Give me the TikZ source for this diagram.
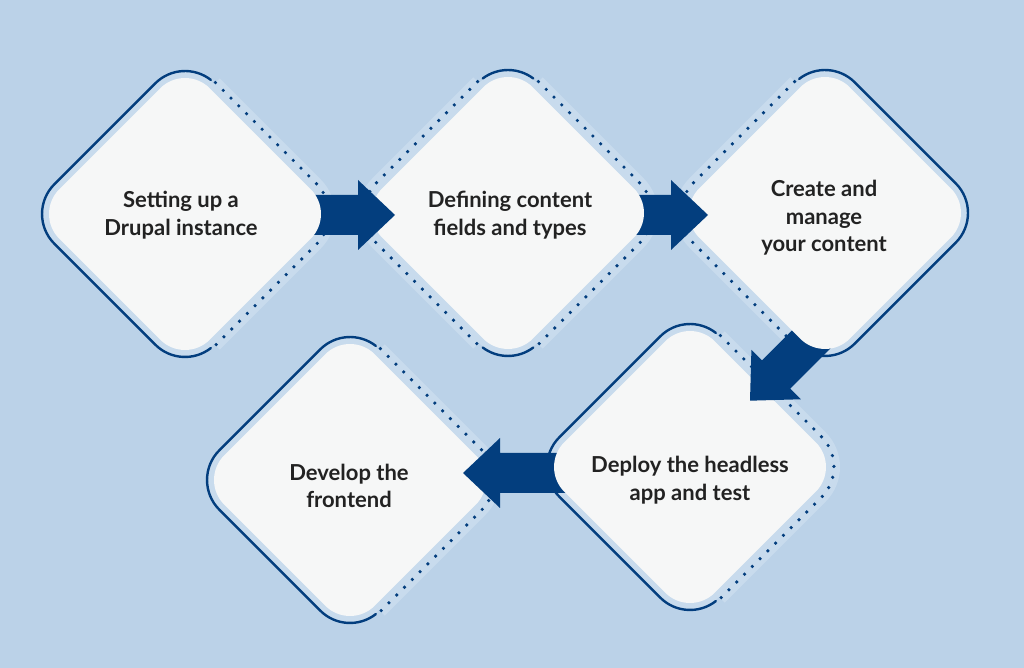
\documentclass[tikz,border=0pt]{standalone}
\usepackage{fontspec}
\setmainfont{Lato}
\definecolor{bg}{HTML}{BBD2E8}
\definecolor{halo}{HTML}{C8DBED}
\definecolor{paper}{HTML}{F6F7F7}
\definecolor{navy}{HTML}{033E7E}
\definecolor{ink}{HTML}{222222}
\def\dmoff{71.4}
\tikzset{
  lbl/.style={text=ink, font=\fontsize{22}{27.5}\selectfont\bfseries, align=center, inner sep=0pt},
  darkline/.style={draw=navy, line width=2.4pt, line cap=round},
  dotline/.style={draw=navy, line width=3.6pt, line cap=round, dash pattern=on 0pt off 11pt},
  haloband/.style={draw=halo, line width=14pt},
  dm/.style={insert path={({\dmoff+#1},{-\dmoff}) -- ({\dmoff+#1},{\dmoff}) arc[start angle=0,end angle=90,radius=#1] -- ({-\dmoff},{\dmoff+#1}) arc[start angle=90,end angle=180,radius=#1] -- ({-\dmoff-#1},{-\dmoff}) arc[start angle=180,end angle=270,radius=#1] -- ({\dmoff},{-\dmoff-#1}) arc[start angle=270,end angle=360,radius=#1] -- cycle}},
  dotsR/.style={insert path={({\dmoff+#1},{\dmoff}) -- ({\dmoff+#1},{-\dmoff}) arc[start angle=360,end angle=270,radius=#1] -- ({-\dmoff},{-\dmoff-#1})}},
  dotsL/.style={insert path={({\dmoff},{\dmoff+#1}) -- ({-\dmoff},{\dmoff+#1}) arc[start angle=90,end angle=180,radius=#1] -- ({-\dmoff-#1},{-\dmoff})}},
  darkL/.style={insert path={({\dmoff+42*cos(7)},{\dmoff+42*sin(7)}) arc[start angle=7,end angle=90,radius=42] -- ({-\dmoff},{\dmoff+42}) arc[start angle=90,end angle=180,radius=42] -- ({-\dmoff-42},{-\dmoff}) arc[start angle=180,end angle=263,radius=42]}},
  darkR/.style={insert path={({\dmoff+42*cos(83)},{\dmoff+42*sin(83)}) arc[start angle=83,end angle=0,radius=42] -- ({\dmoff+42},{-\dmoff}) arc[start angle=360,end angle=270,radius=42] -- ({-\dmoff},{-\dmoff-42}) arc[start angle=270,end angle=187,radius=42]}},
  arcT/.style={insert path={({\dmoff+42*cos(8)},{\dmoff+42*sin(8)}) arc[start angle=8,end angle=82,radius=42]}},
  arcB/.style={insert path={({-\dmoff+42*cos(188)},{-\dmoff+42*sin(188)}) arc[start angle=188,end angle=262,radius=42]}},
  blockarrow/.pic={\fill[navy] (-112,20) -- (-37,20) -- (-37,35) -- (0,0) -- (-37,-35) -- (-37,-20) -- (-112,-20) -- cycle;}
}
\begin{document}
\begin{tikzpicture}[x=1pt,y=1pt]
\fill[bg] (0,0) rectangle (1024,668);
\useasboundingbox (0,0) rectangle (1024,668);
\coordinate (c1) at (185,454);
\coordinate (c2) at (508,455);
\coordinate (c3) at (825,455);
\coordinate (c4) at (690,201);
\coordinate (c5) at (350,188);

% ---- layer 1: halos and dotted lines
\begin{scope}[shift={(c1)},rotate=45]
  \fill[halo,dm=41];
  \draw[haloband,dotsR=42];
  \draw[dotline,dotsR=43];
\end{scope}
\begin{scope}[shift={(c2)},rotate=45]
  \fill[halo,dm=41];
  \draw[haloband,dotsR=42];
  \draw[haloband,dotsL=42];
  \draw[dotline,dotsR=43];
  \draw[dotline,dotsL=43];
\end{scope}
\begin{scope}[shift={(c3)},rotate=45]
  \fill[halo,dm=41];
  \draw[haloband,dotsL=42];
  \draw[dotline,dotsL=43];
\end{scope}
\begin{scope}[shift={(c4)},rotate=45]
  \fill[halo,dm=41];
  \draw[haloband,dotsR=42];
  \draw[dotline,dotsR=43];
\end{scope}
\begin{scope}[shift={(c5)},rotate=45]
  \fill[halo,dm=41];
  \draw[haloband,dotsR=42];
  \draw[dotline,dotsR=43];
\end{scope}

% ---- layer 2: faces and arrows, back to front
\begin{scope}[shift={(c5)},rotate=45]
  \fill[paper,dm=35];
  \draw[darkline,darkL];
\end{scope}
\pic (a45) [rotate=180] at (463,195) {blockarrow};
\begin{scope}[shift={(c4)},rotate=45]
  \fill[paper,dm=35];
  \draw[darkline,darkL];
\end{scope}
\pic (a34) [rotate=225] at (750,267.3) {blockarrow};
\begin{scope}[shift={(c3)},rotate=45]
  \fill[paper,dm=35];
  \draw[darkline,darkR];
\end{scope}
\pic (a23) at (708,453) {blockarrow};
\begin{scope}[shift={(c2)},rotate=45]
  \fill[paper,dm=35];
  \draw[darkline,arcT];
  \draw[darkline,arcB];
\end{scope}
\pic (a12) at (395,453) {blockarrow};
\begin{scope}[shift={(c1)},rotate=45]
  \fill[paper,dm=35];
  \draw[darkline,darkL];
\end{scope}

% ---- labels
\node[lbl] (t1) at (181,453) {Setting up a\\Drupal instance};
\node[lbl] (t2) at (510,453) {Defining content\\fields and types};
\node[lbl] (t3) at (824,450) {Create and\\manage\\your content};
\node[lbl] (t4) at (690,188) {Deploy the headless\\app and test};
\node[lbl] (t5) at (349,182) {Develop the\\frontend};
\end{tikzpicture}
\end{document}
